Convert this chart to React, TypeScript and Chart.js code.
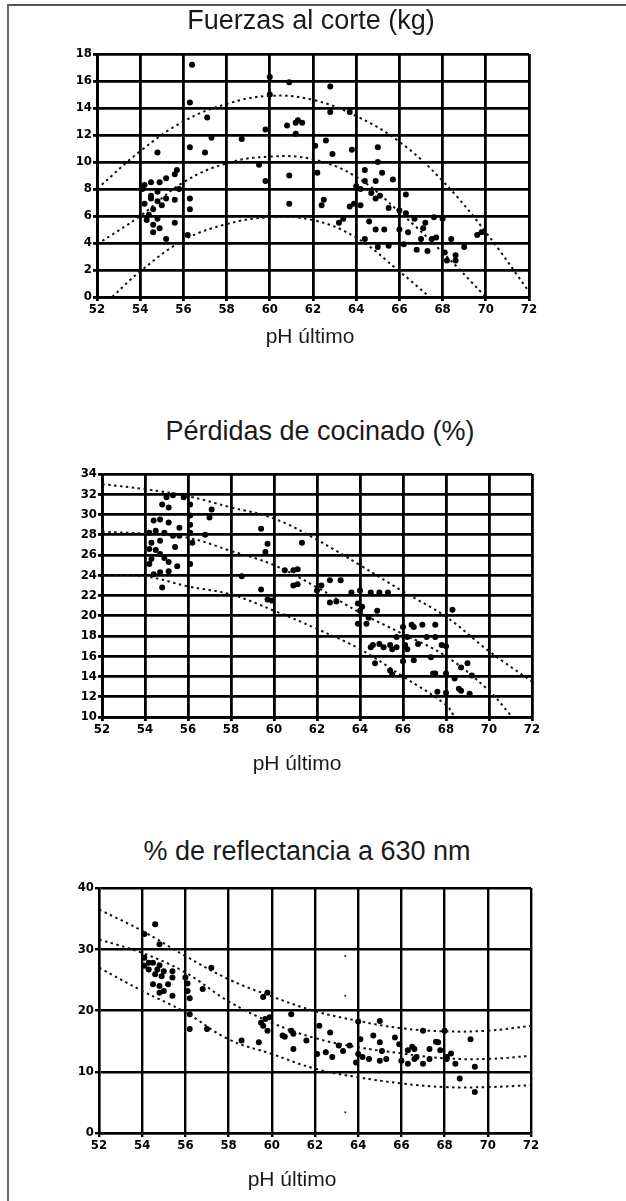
import React, { useEffect, useRef } from "react";
import { Chart, registerables } from "chart.js";

Chart.register(...registerables);

// ---------- shared axis data ----------
const PH_TICKS = [5.2, 5.4, 5.6, 5.8, 6.0, 6.2, 6.4, 6.6, 6.8, 7.0, 7.2];
const PH_TICK_LABELS = ["52", "54", "56", "58", "60", "62", "64", "66", "68", "70", "72"];
const X_TITLE = "pH último";

// ---------- chart 1: Fuerzas al corte (kg) ----------
const SHEAR_TITLE = "Fuerzas al corte (kg)";
const SHEAR_TICKS = [0, 2, 4, 6, 8, 10, 12, 14, 16, 18];
const SHEAR_TICK_LABELS = ["0", "2", "4", "6", "8", "10", "12", "14", "16", "18"];
const SHEAR_PH = [
  5.64, 5.63, 5.71, 5.48, 5.63, 5.7, 5.73, 5.87, 6.0, 6.0, 5.98, 5.95, 5.98, 5.56, 5.42, 5.45, 5.49, 5.52, 5.57, 5.48,
  5.45, 5.48, 5.46, 5.52, 5.56, 5.63, 5.63, 5.43, 5.46, 5.49, 5.46, 5.56, 5.52, 5.62, 5.48, 5.45, 5.42, 5.41, 5.44, 5.5,
  5.58, 6.09, 6.28, 6.28, 6.37, 6.08, 6.12, 6.13, 6.15, 6.12, 6.21, 6.26, 6.29, 6.09, 6.22, 6.09, 6.25, 6.24, 6.32, 6.34,
  6.38, 6.44, 6.5, 6.5, 6.49, 6.44, 6.52, 6.57, 6.4, 6.42, 6.47, 6.51, 6.49, 6.39, 6.42, 6.37, 6.55, 6.6, 6.63, 6.63,
  6.6, 6.49, 6.53, 6.46, 6.64, 6.71, 6.72, 6.76, 6.8, 6.7, 6.75, 6.77, 6.68, 6.73, 6.84, 6.81, 6.82, 6.86, 6.86, 6.9,
  6.96, 6.98, 6.62, 6.55, 6.5, 6.44, 6.67,
];
const SHEAR_KG = [
  17.2, 14.4, 13.3, 10.7, 11.1, 10.7, 11.8, 11.7, 16.3, 15.0, 12.4, 9.8, 8.6, 9.1, 8.3, 8.5, 8.5, 8.8, 9.4, 7.8,
  7.3, 7.1, 6.5, 7.3, 7.2, 7.3, 6.5, 5.7, 5.35, 5.1, 4.8, 5.5, 4.3, 4.6, 5.8, 7.5, 6.9, 8.0, 6.1, 6.8,
  8.0, 15.9, 15.6, 13.7, 13.7, 12.7, 12.9, 13.1, 12.9, 12.1, 11.2, 11.6, 10.6, 9.0, 9.2, 6.9, 7.2, 6.8, 5.5, 5.8,
  10.9, 9.4, 11.1, 10.0, 8.6, 8.6, 9.2, 8.7, 8.2, 8.0, 7.7, 7.5, 7.3, 6.9, 6.8, 6.7, 6.6, 6.4, 7.6, 6.2,
  5.0, 5.0, 5.0, 5.6, 4.8, 5.1, 5.5, 5.9, 5.8, 4.3, 4.3, 4.4, 3.5, 3.4, 4.3, 3.3, 2.7, 2.7, 3.1, 3.7,
  4.6, 4.8, 3.9, 3.8, 3.7, 4.3, 5.8,
];
const SHEAR_UPPER_PH = [5.2, 5.4, 5.6, 5.8, 6.0, 6.2, 6.4, 6.6, 6.8, 7.0, 7.2];
const SHEAR_UPPER = [8.0, 10.8, 13.0, 14.3, 14.9, 14.6, 13.4, 11.5, 8.6, 4.8, 0.4];
const SHEAR_MID_PH = [5.2, 5.4, 5.6, 5.8, 6.0, 6.2, 6.4, 6.6, 6.8, 7.0];
const SHEAR_MID = [3.9, 6.0, 8.5, 9.9, 10.4, 10.2, 8.9, 6.3, 3.3, 0.0];
const SHEAR_LOWER_PH = [5.27, 5.4, 5.6, 5.8, 6.0, 6.2, 6.4, 6.6, 6.74];
const SHEAR_LOWER = [0.0, 1.9, 4.2, 5.4, 5.9, 5.7, 4.4, 1.9, 0.0];

// ---------- chart 2: Pérdidas de cocinado (%) ----------
const LOSS_TITLE = "Pérdidas de cocinado (%)";
const LOSS_TICKS = [10, 12, 14, 16, 18, 20, 22, 24, 26, 28, 30, 32, 34];
const LOSS_TICK_LABELS = ["10", "12", "14", "16", "18", "20", "22", "24", "26", "28", "30", "32", "34"];
const LOSS_PH = [
  5.5, 5.48, 5.51, 5.53, 5.58, 5.61, 5.61, 5.61, 5.61, 5.62, 5.61, 5.44, 5.47, 5.51, 5.56, 5.42, 5.45, 5.49, 5.53, 5.56,
  5.43, 5.47, 5.42, 5.45, 5.47, 5.49, 5.51, 5.54, 5.43, 5.42, 5.55, 5.44, 5.47, 5.51, 5.48, 5.7, 5.71, 5.68, 5.94, 5.97,
  5.85, 5.94, 5.97, 5.96, 6.13, 5.99, 6.05, 6.09, 6.11, 6.09, 6.11, 6.2, 6.22, 6.26, 6.31, 6.26, 6.29, 6.36, 6.4, 6.45,
  6.49, 6.53, 6.39, 6.4, 6.48, 6.43, 6.39, 6.46, 6.49, 6.54, 6.57, 6.62, 6.67, 6.6, 6.65, 6.62, 6.57, 6.71, 6.75, 6.78,
  6.65, 6.74, 6.76, 6.54, 6.83, 6.8, 6.87, 6.9, 6.84, 6.86, 6.87, 6.8, 6.92, 6.91, 6.64, 6.69, 6.75, 6.61, 6.6, 6.73,
  6.8, 6.75, 6.55, 6.47, 6.45, 6.51, 6.55, 6.41, 6.44,
];
const LOSS_PCT = [
  31.7, 31.0, 30.7, 31.9, 31.7, 31.0, 29.9, 29.0, 28.2, 27.2, 25.1, 29.4, 29.5, 29.2, 28.7, 28.2, 28.4, 28.2, 27.9, 27.9,
  27.2, 27.4, 26.6, 26.5, 26.1, 25.7, 25.3, 26.8, 25.6, 25.1, 24.9, 24.1, 24.3, 24.4, 22.8, 29.7, 30.5, 28.0, 28.6, 27.1,
  23.9, 22.6, 21.6, 26.3, 27.2, 21.5, 24.5, 24.5, 24.6, 23.0, 23.1, 22.5, 23.0, 23.5, 23.5, 21.3, 21.4, 22.3, 22.5, 22.3,
  22.3, 22.3, 21.2, 20.5, 20.5, 19.2, 19.2, 17.1, 17.2, 17.1, 16.9, 16.7, 17.2, 18.9, 18.9, 17.9, 17.9, 17.9, 17.9, 17.1,
  15.6, 14.3, 12.5, 14.6, 20.6, 14.3, 14.9, 15.3, 13.8, 12.8, 12.6, 12.4, 14.1, 12.3, 19.1, 19.1, 19.1, 17.1, 15.5, 15.9,
  17.0, 14.3, 14.2, 15.3, 16.9, 16.9, 16.7, 20.9, 19.8,
];
const LOSS_UPPER_PH = [5.2, 5.4, 5.6, 5.8, 6.0, 6.2, 6.4, 6.6, 6.8, 7.0, 7.2];
const LOSS_UPPER = [33.0, 32.5, 31.8, 30.7, 29.6, 27.5, 25.0, 22.4, 19.9, 16.5, 13.5];
const LOSS_MID_PH = [5.2, 5.4, 5.6, 5.8, 6.0, 6.2, 6.4, 6.6, 6.8, 7.0, 7.1];
const LOSS_MID = [28.3, 28.1, 27.7, 26.4, 25.0, 22.8, 20.3, 18.2, 16.0, 12.6, 10.2];
const LOSS_LOWER_PH = [5.2, 5.4, 5.6, 5.8, 6.0, 6.2, 6.4, 6.6, 6.8, 6.84];
const LOSS_LOWER = [24.0, 23.9, 22.9, 22.1, 20.5, 18.7, 16.7, 14.0, 11.2, 10.0];

// ---------- chart 3: % de reflectancia a 630 nm ----------
const REFL_TITLE = "% de reflectancia a 630 nm";
const REFL_TICKS = [0, 10, 20, 30, 40];
const REFL_TICK_LABELS = ["0", "10", "20", "30", "40"];
const REFL_PH = [
  5.46, 5.41, 5.48, 5.41, 5.43, 5.45, 5.48, 5.41, 5.43, 5.47, 5.5, 5.46, 5.49, 5.54, 5.54, 5.45, 5.48, 5.52, 5.5, 5.48,
  5.54, 5.6, 5.61, 5.61, 5.62, 5.62, 5.62, 5.7, 5.68, 5.72, 5.86, 5.94, 5.96, 5.98, 5.97, 5.95, 5.98, 5.99, 5.96, 6.09,
  6.09, 6.05, 6.06, 6.1, 6.1, 6.16, 6.22, 6.27, 6.21, 6.25, 6.28, 6.31, 6.36, 6.33, 6.4, 6.41, 6.4, 6.5, 6.47, 6.5,
  6.42, 6.45, 6.5, 6.53, 6.51, 6.57, 6.59, 6.6, 6.63, 6.66, 6.66, 6.7, 6.73, 6.73, 6.77, 6.81, 6.8, 6.7, 6.39, 6.81,
  6.85, 6.87, 6.92, 6.94, 6.83, 6.78, 6.76, 6.67, 6.65, 6.63, 6.94,
];
const REFL_PCT = [
  34.1, 32.5, 30.8, 28.6, 27.8, 27.8, 27.4, 27.3, 26.7, 26.7, 26.4, 25.9, 25.6, 26.4, 25.4, 24.3, 24.0, 24.3, 23.2, 22.9,
  22.4, 25.4, 24.4, 23.2, 22.0, 19.4, 17.0, 17.0, 23.5, 27.0, 15.1, 14.8, 22.2, 22.9, 18.6, 18.0, 16.7, 18.9, 17.5, 19.4,
  16.7, 15.9, 15.7, 16.2, 13.7, 15.1, 17.5, 16.4, 12.9, 13.2, 12.4, 14.3, 14.3, 13.4, 12.9, 15.3, 18.2, 18.3, 15.9, 14.8,
  12.4, 12.1, 11.8, 12.1, 13.4, 15.6, 14.5, 11.8, 11.3, 12.1, 13.7, 11.3, 12.1, 13.7, 14.8, 12.1, 16.7, 16.7, 11.5, 12.4,
  11.3, 8.9, 15.3, 10.8, 13.0, 13.5, 14.9, 12.4, 14.1, 13.5, 6.7,
];
const REFL_SPECK_PH = [6.34, 6.34, 6.34];
const REFL_SPECK_PCT = [28.9, 22.4, 3.4];
const REFL_UPPER_PH = [5.2, 5.4, 5.6, 5.8, 6.0, 6.2, 6.4, 6.6, 6.8, 7.0, 7.2];
const REFL_UPPER = [36.5, 33.0, 28.9, 25.1, 22.3, 19.9, 18.3, 17.1, 16.6, 16.7, 17.5];
const REFL_MID_PH = [5.2, 5.4, 5.6, 5.8, 6.0, 6.2, 6.4, 6.6, 6.8, 7.0, 7.2];
const REFL_MID = [31.6, 29.4, 26.2, 21.5, 18.0, 15.5, 14.0, 13.0, 12.2, 12.1, 12.6];
const REFL_LOWER_PH = [5.2, 5.4, 5.6, 5.8, 6.0, 6.2, 6.4, 6.6, 6.8, 7.0, 7.2];
const REFL_LOWER = [27.0, 23.2, 19.7, 15.3, 12.9, 10.5, 9.1, 8.1, 7.5, 7.5, 7.8];

// ---------- helpers ----------
const zip = (xs: number[], ys: number[]) => xs.map((x, i) => ({ x, y: ys[i] }));

type Curve = { x: number[]; y: number[] };
type PanelProps = {
  canvasTop: number;
  canvasHeight: number;
  area: { left: number; right: number; top: number; bottom: number };
  yMin: number;
  yMax: number;
  yTicks: number[];
  yLabels: string[];
  px: number[];
  py: number[];
  curves: Curve[];
  specks?: { x: number[]; y: number[] };
  gridWidth: number;
};

const W = 626;
const TICK_FONT = { family: "'DejaVu Sans Condensed', 'DejaVu Sans', sans-serif", size: 13, weight: "bold" as const };

function Panel(p: PanelProps) {
  const ref = useRef<HTMLCanvasElement>(null);
  useEffect(() => {
    if (!ref.current) return;
    const datasets: any[] = p.curves.map((c) => ({
      data: zip(c.x, c.y),
      showLine: true,
      borderColor: "#111",
      borderWidth: 2,
      borderDash: [2.5, 3.5],
      pointRadius: 0,
      tension: 0.4,
      fill: false,
    }));
    datasets.push({
      data: zip(p.px, p.py),
      showLine: false,
      pointRadius: 3,
      pointBackgroundColor: "#000",
      pointBorderWidth: 0,
    });
    if (p.specks) {
      datasets.push({
        data: zip(p.specks.x, p.specks.y),
        showLine: false,
        pointRadius: 1,
        pointBackgroundColor: "#222",
        pointBorderWidth: 0,
      });
    }
    const chart = new Chart(ref.current, {
      type: "scatter",
      data: { datasets },
      options: {
        responsive: false,
        animation: false,
        devicePixelRatio: 1,
        layout: {
          padding: {
            left: 0,
            right: W - p.area.right,
            top: p.area.top - p.canvasTop,
            bottom: 0,
          },
        },
        plugins: {
          legend: { display: false },
          tooltip: { enabled: false },
          title: { display: false },
        },
        scales: {
          x: {
            type: "linear",
            min: PH_TICKS[0],
            max: PH_TICKS[PH_TICKS.length - 1],
            afterBuildTicks: (s: any) => {
              s.ticks = PH_TICKS.map((v) => ({ value: v }));
            },
            afterFit: (s: any) => {
              s.height = p.canvasTop + p.canvasHeight - p.area.bottom;
            },
            ticks: {
              callback: (_v: any, i: number) => PH_TICK_LABELS[i],
              font: TICK_FONT,
              color: "#000",
              maxRotation: 0,
              autoSkip: false,
              padding: 1,
            },
            grid: { color: "#000", lineWidth: p.gridWidth, tickLength: 4 },
            border: { color: "#000", width: p.gridWidth },
          },
          y: {
            type: "linear",
            min: p.yMin,
            max: p.yMax,
            afterBuildTicks: (s: any) => {
              s.ticks = p.yTicks.map((v) => ({ value: v }));
            },
            afterFit: (s: any) => {
              s.width = p.area.left;
            },
            ticks: {
              callback: (_v: any, i: number) => p.yLabels[i],
              font: TICK_FONT,
              color: "#000",
              autoSkip: false,
              padding: 1,
            },
            grid: { color: "#000", lineWidth: p.gridWidth, tickLength: 4 },
            border: { color: "#000", width: p.gridWidth },
          },
        },
      } as any,
    });
    return () => chart.destroy();
  }, []);
  return (
    <canvas
      ref={ref}
      width={W}
      height={p.canvasHeight}
      style={{ position: "absolute", left: 0, top: p.canvasTop, width: W, height: p.canvasHeight }}
    />
  );
}

function Label({ text, cx, baseline, size }: { text: string; cx: number; baseline: number; size: number }) {
  return (
    <div
      style={{
        position: "absolute",
        left: cx - 250,
        width: 500,
        top: baseline - size * 0.85,
        textAlign: "center",
        fontFamily: "'Liberation Sans', Arial, sans-serif",
        fontSize: size,
        lineHeight: `${size}px`,
        color: "#1a1a1a",
        whiteSpace: "nowrap",
      }}
    >
      {text}
    </div>
  );
}

export default function App() {
  return (
    <div style={{ position: "absolute", left: 0, top: 0, width: W, height: 1201, background: "#fff", overflow: "hidden" }}>
      <div style={{ position: "absolute", left: 7, top: 4, width: W - 7, height: 2, background: "#555" }} />
      <div style={{ position: "absolute", left: 7, top: 4, width: 2, height: 1197, background: "#666" }} />

      <Panel
        canvasTop={30}
        canvasHeight={300}
        area={{ left: 97, right: 529, top: 54, bottom: 297 }}
        yMin={0}
        yMax={18}
        yTicks={SHEAR_TICKS}
        yLabels={SHEAR_TICK_LABELS}
        px={SHEAR_PH}
        py={SHEAR_KG}
        curves={[
          { x: SHEAR_UPPER_PH, y: SHEAR_UPPER },
          { x: SHEAR_MID_PH, y: SHEAR_MID },
          { x: SHEAR_LOWER_PH, y: SHEAR_LOWER },
        ]}
        gridWidth={2.8}
      />
      <Panel
        canvasTop={455}
        canvasHeight={300}
        area={{ left: 102, right: 532, top: 474, bottom: 717 }}
        yMin={10}
        yMax={34}
        yTicks={LOSS_TICKS}
        yLabels={LOSS_TICK_LABELS}
        px={LOSS_PH}
        py={LOSS_PCT}
        curves={[
          { x: LOSS_UPPER_PH, y: LOSS_UPPER },
          { x: LOSS_MID_PH, y: LOSS_MID },
          { x: LOSS_LOWER_PH, y: LOSS_LOWER },
        ]}
        gridWidth={2.8}
      />
      <Panel
        canvasTop={870}
        canvasHeight={300}
        area={{ left: 99, right: 531, top: 888, bottom: 1133 }}
        yMin={0}
        yMax={40}
        yTicks={REFL_TICKS}
        yLabels={REFL_TICK_LABELS}
        px={REFL_PH}
        py={REFL_PCT}
        curves={[
          { x: REFL_UPPER_PH, y: REFL_UPPER },
          { x: REFL_MID_PH, y: REFL_MID },
          { x: REFL_LOWER_PH, y: REFL_LOWER },
        ]}
        specks={{ x: REFL_SPECK_PH, y: REFL_SPECK_PCT }}
        gridWidth={2.4}
      />

      <Label text={SHEAR_TITLE} cx={311} baseline={30} size={27} />
      <Label text={X_TITLE} cx={310} baseline={343} size={21} />
      <Label text={LOSS_TITLE} cx={320} baseline={441} size={27} />
      <Label text={X_TITLE} cx={297} baseline={770} size={21} />
      <Label text={REFL_TITLE} cx={307} baseline={861} size={27} />
      <Label text={X_TITLE} cx={292} baseline={1186} size={21} />
    </div>
  );
}
